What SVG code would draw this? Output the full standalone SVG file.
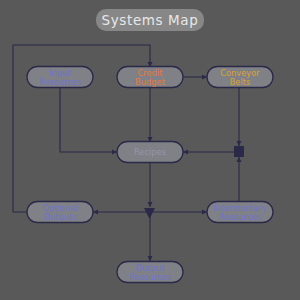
<svg xmlns="http://www.w3.org/2000/svg" width="300" height="300" viewBox="0 0 300 300">
<defs>
<marker id="arr" markerWidth="6" markerHeight="6" refX="5" refY="3" orient="auto" markerUnits="userSpaceOnUse">
<path d="M0,0.5 L5,3 L0,5.5 Z" fill="#2b2948"/>
</marker>
</defs>
<style>
.n rect{fill:#808087;stroke:#2b2948;stroke-width:1.3}
.n text{font-family:"DejaVu Sans",sans-serif;font-size:8.3px;text-anchor:middle}
.e{fill:none;stroke:#2b2948;stroke-width:1.1}
.blue{fill:#6e74cc}
.dim{fill:#9496aa}
</style>
<rect width="300" height="300" fill="#595959"/>
<g id="title">
<rect x="96" y="9" width="108" height="22" rx="10" fill="#878787"/>
<text x="150" y="25" font-family="DejaVu Sans,sans-serif" font-size="13.5" letter-spacing="0.6" fill="#e8e8e8" text-anchor="middle">Systems Map</text>
</g>
<g id="connectors">
<path class="e" d="M60,87 V152 H117" marker-end="url(#arr)"/>
<path class="e" d="M150,87 V142" marker-end="url(#arr)"/>
<path class="e" d="M183,77 H207" marker-end="url(#arr)"/>
<path class="e" d="M239,87 V146" marker-end="url(#arr)"/>
<path class="e" d="M239,202 V157" marker-end="url(#arr)"/>
<path class="e" d="M234,152 H183" marker-end="url(#arr)"/>
<path class="e" d="M150,162 V207" marker-end="url(#arr)"/>
<path class="e" d="M150,212 H93" marker-end="url(#arr)"/>
<path class="e" d="M150,212 H207" marker-end="url(#arr)"/>
<path class="e" d="M150,212 V261" marker-end="url(#arr)"/>
<path class="e" d="M27,212 H13 V45 H150 V67" marker-end="url(#arr)"/>
<rect x="234" y="146" width="10" height="11" fill="#2b2948"/>
<path d="M144,208 H155 L149.5,219 Z" fill="#2b2948"/>
</g>
<g id="input-resources" class="n">
<rect x="27" y="66.5" width="66" height="21" rx="10.5"/>
<text class="blue" x="60" y="75.5">Input</text>
<text class="blue" x="60" y="84.5">Resources</text>
</g>
<g id="credit-budget" class="n">
<rect x="117" y="66.5" width="66" height="21" rx="10.5"/>
<text x="150" y="75.5" fill="#e27c3a">Credit</text>
<text x="150" y="84.5" fill="#e27c3a">Budget</text>
</g>
<g id="conveyor-belts" class="n">
<rect x="207" y="66.5" width="66" height="21" rx="10.5"/>
<text x="240" y="75.5" fill="#d8a42c">Conveyor</text>
<text x="240" y="84.5" fill="#d8a42c">Belts</text>
</g>
<g id="recipes" class="n">
<rect x="117" y="141.5" width="66" height="21" rx="10.5"/>
<text class="dim" x="150" y="155">Recipes</text>
</g>
<g id="optional-outputs" class="n">
<rect x="27" y="201.5" width="66" height="21" rx="10.5"/>
<text class="blue" x="60" y="210.5">Optional</text>
<text class="blue" x="60" y="219.5">Outputs</text>
</g>
<g id="intermediary-resources" class="n">
<rect x="207" y="201.5" width="66" height="21" rx="10.5"/>
<text class="blue" x="240" y="210.5">Intermediary</text>
<text class="blue" x="240" y="219.5">Resources</text>
</g>
<g id="output-resources" class="n">
<rect x="117" y="261.5" width="66" height="21" rx="10.5"/>
<text class="blue" x="150" y="270.5">Output</text>
<text class="blue" x="150" y="279.5">Resources</text>
</g>
</svg>
